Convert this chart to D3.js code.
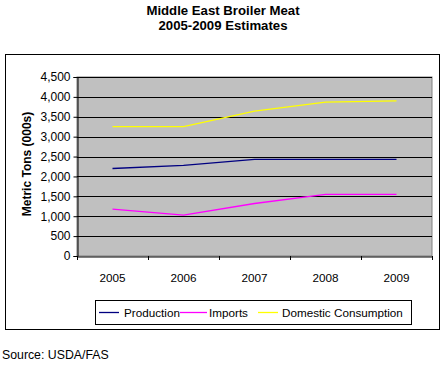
<!DOCTYPE html>
<html><head><meta charset="utf-8">
<script src="https://cdn.jsdelivr.net/npm/d3@7"></script>
<style>body{margin:0;background:#fff;}svg{display:block;font-family:"Liberation Sans",Arial,sans-serif;}</style>
</head><body>
<svg id="c" width="443" height="365"></svg>
<script>
const years = ["2005","2006","2007","2008","2009"];
const production = [2200, 2280, 2430, 2430, 2430];
const imports = [1180, 1030, 1320, 1550, 1550];
const consumption = [3250, 3250, 3640, 3870, 3900];
const yTicks = [0,500,1000,1500,2000,2500,3000,3500,4000,4500];
const seriesNames = ["Production","Imports","Domestic Consumption"];
const seriesColors = ["#000080","#FF00FF","#FFFF00"];

const svg = d3.select("#c");
const L=77, R=432, T=77, B=256;
const x = d3.scaleBand().domain(years).range([L,R]);
const y = d3.scaleLinear().domain([0,4500]).range([B,T]);

// titles
svg.append("text").attr("x",223).attr("y",15).attr("text-anchor","middle").attr("font-weight","bold").attr("font-size",13.2).text("Middle East Broiler Meat");
svg.append("text").attr("x",223).attr("y",30).attr("text-anchor","middle").attr("font-weight","bold").attr("font-size",13.2).text("2005-2009 Estimates");

// outer box
svg.append("rect").attr("x",5.5).attr("y",54.5).attr("width",434).attr("height",275).attr("fill","none").attr("stroke","#000").attr("stroke-width",1);

// plot bg
svg.append("rect").attr("x",L).attr("y",T).attr("width",R-L).attr("height",B-T).attr("fill","#C0C0C0").attr("stroke","#808080");

// grid
svg.append("g").selectAll("line").data(yTicks.filter(d=>d>0)).join("line")
  .attr("x1",L).attr("x2",R).attr("y1",d=>Math.round(y(d))+0.5).attr("y2",d=>Math.round(y(d))+0.5)
  .attr("stroke","#000").attr("stroke-width",1);

// y axis
const yAxis = d3.axisLeft(y).tickValues(yTicks).tickFormat(d3.format(",")).tickSize(4).tickPadding(3);
const gy = svg.append("g").attr("transform",`translate(${L+0.5},0)`).call(yAxis);
gy.selectAll("text").attr("font-size",12).attr("font-family","Liberation Sans, Arial, sans-serif").attr("fill","#000");
gy.selectAll("line,path").attr("stroke","#000");

// x axis
const xAxis = d3.axisBottom(x).tickSize(0).tickPadding(17);
const gx = svg.append("g").attr("transform",`translate(0,${B+0.5})`).call(xAxis);
gx.select("path").attr("stroke","#000");
gx.selectAll("text").attr("font-size",11.7).attr("font-family","Liberation Sans, Arial, sans-serif").attr("fill","#000");
const bounds = years.map(d=>x(d)).concat([R]);
svg.append("g").selectAll("line").data(bounds).join("line")
  .attr("x1",d=>Math.round(d)+0.5).attr("x2",d=>Math.round(d)+0.5).attr("y1",B).attr("y2",B+4).attr("stroke","#000");

// y title
svg.append("text").attr("transform","translate(31,164) rotate(-90)").attr("text-anchor","middle")
  .attr("font-weight","bold").attr("font-size",12).text("Metric Tons (000s)");

// lines
const line = d3.line().x((d,i)=>x(years[i])+x.bandwidth()/2).y(d=>y(d));
[production, imports, consumption].forEach((s,i)=>{
  svg.append("path").attr("d",line(s)).attr("fill","none").attr("stroke",seriesColors[i]).attr("stroke-width",1.3);
});

// legend
svg.append("rect").attr("x",95.5).attr("y",300.5).attr("width",316).attr("height",24).attr("fill","#fff").attr("stroke","#000");
const legItems = [{x:99,w:20,t:124},{x:180,w:27,t:209},{x:258,w:20,t:282}];
seriesNames.forEach((n,i)=>{
  const it = legItems[i];
  svg.append("line").attr("x1",it.x).attr("x2",it.x+it.w).attr("y1",312.5).attr("y2",312.5).attr("stroke",seriesColors[i]).attr("stroke-width",1.3);
  svg.append("text").attr("x",it.t).attr("y",316.5).attr("font-size",11.7).text(n);
});

// source
svg.append("text").attr("x",2).attr("y",359).attr("font-size",12.3).text("Source: USDA/FAS");
</script>
</body></html>
